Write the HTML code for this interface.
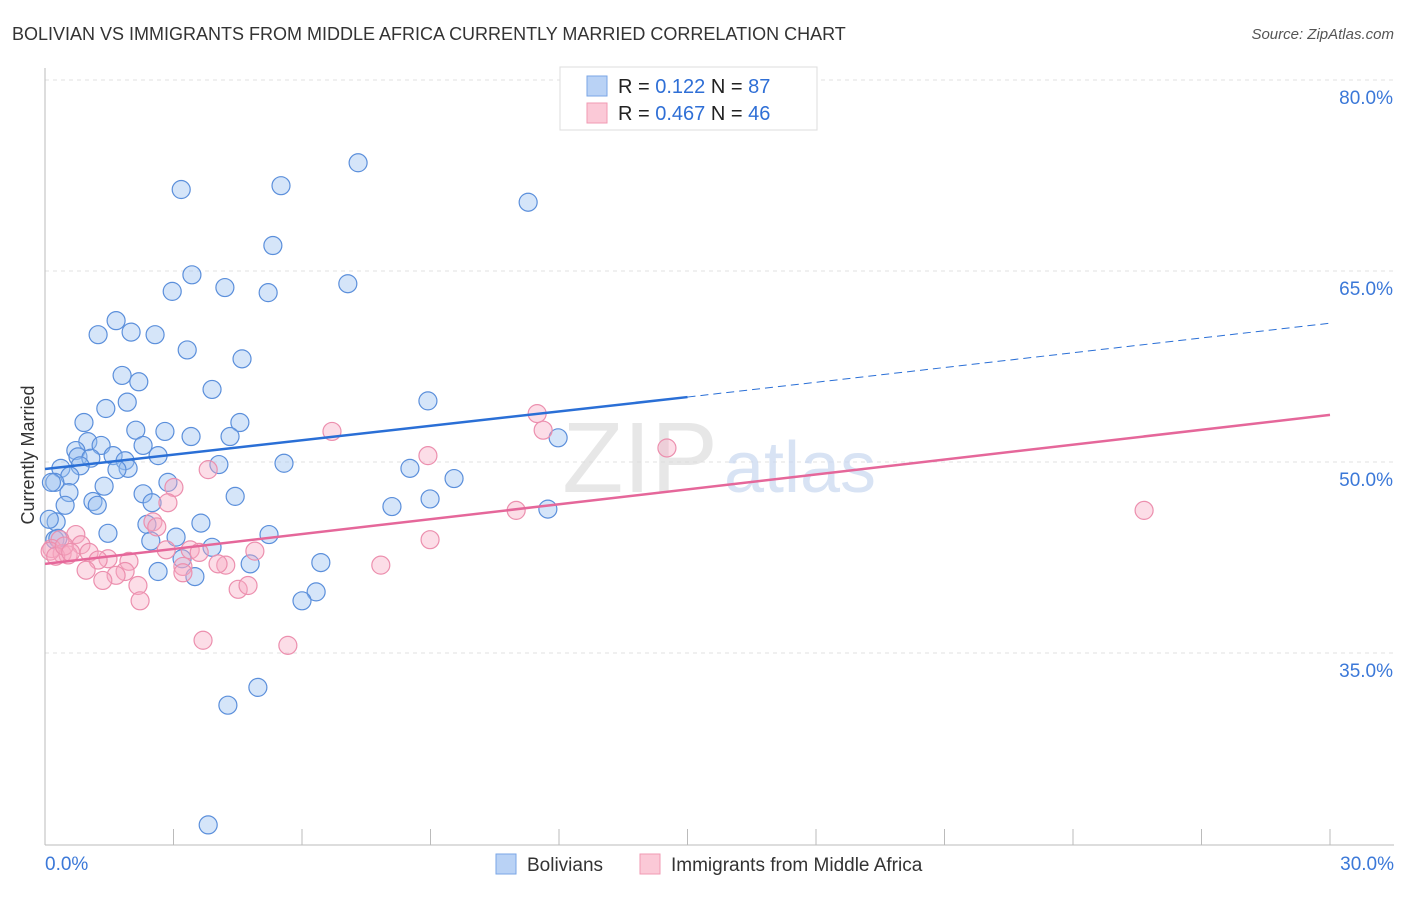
<!DOCTYPE html>
<html><head><meta charset="utf-8"><style>
body{margin:0;background:#fff;font-family:"Liberation Sans",sans-serif}
svg text{font-family:"Liberation Sans",sans-serif}
</style></head><body>
<svg id="chart" width="1406" height="892" viewBox="0 0 1406 892" xmlns="http://www.w3.org/2000/svg">
<text x="12" y="40" font-size="18" fill="#333">BOLIVIAN VS IMMIGRANTS FROM MIDDLE AFRICA CURRENTLY MARRIED CORRELATION CHART</text>
<text x="1394" y="39" font-size="15" fill="#555" font-style="italic" text-anchor="end">Source: ZipAtlas.com</text>
<g id="grid"></g>
<text x="640" y="492" font-size="100" fill="#ddd" font-family="Liberation Serif" text-anchor="middle" opacity="0.7">ZIP</text>
<text x="800" y="492" font-size="72" fill="#c8d8f0" text-anchor="middle" opacity="0.7">atlas</text>
<g id="marks"></g>
<text x="34" y="455" font-size="18" fill="#333" text-anchor="middle" transform="rotate(-90 34 455)">Currently Married</text>
<g>
<rect x="560" y="67" width="257" height="63" fill="#fff" stroke="#ddd"/>
<rect x="587" y="76" width="20" height="20" fill="#b9d2f5" stroke="#7aa6e6"/>
<rect x="587" y="103" width="20" height="20" fill="#fbc9d7" stroke="#f09ab3"/>
<text x="618" y="93" font-size="20" fill="#222">R =  <tspan fill="#2f6fd6">0.122</tspan>   N = <tspan fill="#2f6fd6">87</tspan></text>
<text x="618" y="120" font-size="20" fill="#222">R = <tspan fill="#2f6fd6">0.467</tspan>   N = <tspan fill="#2f6fd6">46</tspan></text>
</g>
<g>
<rect x="496" y="854" width="20" height="20" fill="#b9d2f5" stroke="#7aa6e6"/>
<text x="527" y="871" font-size="19" fill="#333">Bolivians</text>
<rect x="640" y="854" width="20" height="20" fill="#fbc9d7" stroke="#f09ab3"/>
<text x="671" y="871" font-size="19" fill="#333">Immigrants from Middle Africa</text>
</g>
</svg>
<script>
const yTicks=[35,50,65,80];
const yTickLabels=["35.0%","50.0%","65.0%","80.0%"];
const xEndLabels=["0.0%","30.0%"];
const blueX=[3.18,5.51,7.31,11.28,5.32,3.43,2.97,4.20,5.21,7.07,1.66,1.24,2.01,2.57,3.32,4.60,1.80,2.19,3.90,1.92,1.42,8.94,0.91,4.55,2.12,2.80,3.41,4.32,1.00,1.31,2.29,11.98,0.72,0.77,1.07,1.59,2.64,1.87,0.82,1.94,1.68,0.37,0.58,0.23,4.06,5.58,8.52,9.55,1.38,2.87,0.56,2.29,4.44,8.99,1.12,1.22,2.50,8.10,11.74,0.47,0.26,2.38,3.64,1.47,5.23,3.06,2.47,3.90,0.23,3.20,4.79,6.44,2.64,3.50,6.33,6.00,4.97,4.27,3.81,0.10,0.15,0.30];
const blueY=[71.4,71.7,73.5,70.4,67.0,64.7,63.4,63.7,63.3,64.0,61.1,60.0,60.2,60.0,58.8,58.1,56.8,56.3,55.7,54.7,54.2,54.8,53.1,53.1,52.5,52.4,52.0,52.0,51.6,51.3,51.3,51.9,50.9,50.4,50.3,50.5,50.5,50.1,49.7,49.5,49.4,49.5,48.9,48.4,49.8,49.9,49.5,48.7,48.1,48.4,47.6,47.5,47.3,47.1,46.9,46.6,46.8,46.5,46.3,46.6,45.3,45.1,45.2,44.4,44.3,44.1,43.8,43.3,43.9,42.4,42.0,42.1,41.4,41.0,39.8,39.1,32.3,30.9,21.5,45.5,48.4,44.0];
const pinkX=[11.49,6.70,11.63,14.52,8.94,3.81,3.01,2.87,11.00,25.66,2.52,2.61,0.72,0.35,8.99,0.84,0.16,0.40,0.54,1.03,2.83,3.39,3.60,4.90,1.47,1.24,1.96,3.22,4.22,7.84,0.96,1.87,1.66,1.35,2.17,4.51,4.74,2.22,3.69,5.67,3.22,4.04,0.12,0.25,0.45,0.60];
const pinkY=[53.8,52.4,52.5,51.1,50.5,49.4,48.0,46.8,46.2,46.2,45.3,44.9,44.3,43.9,43.9,43.5,43.2,42.8,42.7,42.9,43.1,43.1,42.9,43.0,42.4,42.3,42.2,41.8,41.9,41.9,41.5,41.4,41.1,40.7,40.3,40.0,40.3,39.1,36.0,35.6,41.3,42.0,43.0,42.6,43.4,42.9];
const blueTrend=[49.45,55.1,60.9]; // at x=0, 15, 30
const pinkTrend=[42.0,53.7]; // at x=0, 30
const X=v=>45+v/30*1285;
const Y=v=>462-(v-50)/15*191;
const NS="http://www.w3.org/2000/svg";
function mk(t,a,p){const e=document.createElementNS(NS,t);for(const k in a)e.setAttribute(k,a[k]);p.appendChild(e);return e;}
const grid=document.getElementById('grid'),marks=document.getElementById('marks');
yTicks.forEach((t,i)=>{
 const l=mk('line',{x1:45,x2:1394,y1:Y(t),y2:Y(t),stroke:'#e2e2e2','stroke-dasharray':'4,4'},grid);
 
 
 const tx=mk('text',{x:1393,y:Y(t)+24,'font-size':19,fill:'#3b78d8','text-anchor':'end'},grid);
 tx.textContent=yTickLabels[i];
 
 
});
const ax=mk('line',{x1:45,x2:45,y1:68,y2:845,stroke:'#bbb'},grid);


const bx=mk('line',{x1:45,x2:1394,y1:845,y2:845,stroke:'#bbb'},grid);


for(let i=0;i<=10;i++){
 const t=mk('line',{x1:X(i*3),x2:X(i*3),y1:829,y2:845,stroke:'#bbb'},grid);
 
 
}
[[0,'start',45],[30,'end',1394]].forEach((d,i)=>{
 const tx=mk('text',{x:d[2],y:870,'font-size':19,fill:'#3b78d8','text-anchor':d[1]},grid);
 tx.textContent=xEndLabels[i];
 
 
});
blueX.forEach((x,i)=>{
 const c=mk('circle',{cx:X(x),cy:Y(blueY[i]),r:9,fill:'rgba(150,190,240,0.4)',stroke:'#5b8fdb','stroke-width':1.2},marks);
 
 
});
pinkX.forEach((x,i)=>{
 const c=mk('circle',{cx:X(x),cy:Y(pinkY[i]),r:9,fill:'rgba(248,170,195,0.4)',stroke:'#ec8fae','stroke-width':1.2},marks);
 
 
});
const b1=mk('line',{x1:X(0),y1:Y(blueTrend[0]),x2:X(15),y2:Y(blueTrend[1]),stroke:'#2a6fd6','stroke-width':2.5},marks);


const b2=mk('line',{x1:X(15),y1:Y(blueTrend[1]),x2:X(30),y2:Y(blueTrend[2]),stroke:'#2a6fd6','stroke-width':1,'stroke-dasharray':'8,5'},marks);


const p1=mk('line',{x1:X(0),y1:Y(pinkTrend[0]),x2:X(30),y2:Y(pinkTrend[1]),stroke:'#e5679a','stroke-width':2.5},marks);


</script>
</body></html>
